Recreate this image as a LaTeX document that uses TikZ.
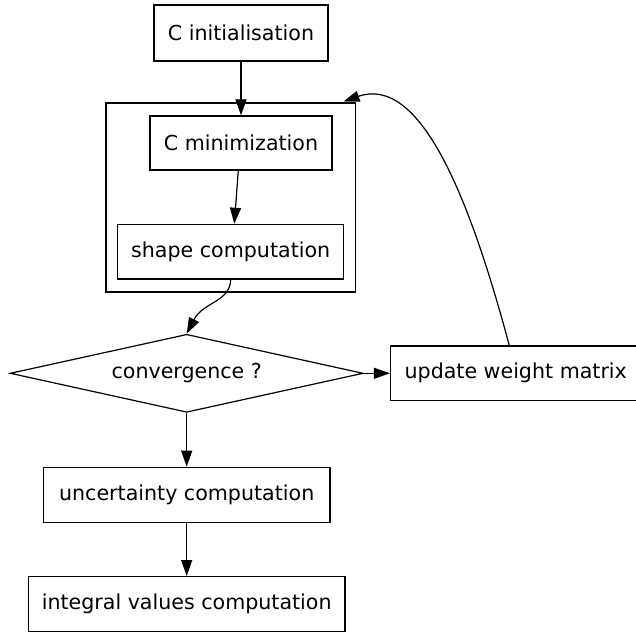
\documentclass[tikz,border=0pt]{standalone}
\usepackage{fontspec}
\setmainfont{DejaVu Sans}
\usetikzlibrary{arrows.meta,shapes.geometric}
\begin{document}
\begin{tikzpicture}[x=1pt,y=-1pt,
  every node/.style={font=\fontsize{20.6pt}{24pt}\selectfont, inner sep=0pt},
  gvbox/.style={draw, line width=1.2pt, rectangle},
  gvedge/.style={draw, line width=1.2pt, -{Triangle[length=16pt,width=11pt]}},
  ]
\useasboundingbox (0,0) rectangle (636,631);
% cluster
\node[gvbox, minimum width=249.5pt, minimum height=189pt] (cluster) at (230.8,197.5) {};
% nodes
\node[gvbox, minimum width=174pt, minimum height=56pt] (cinit) at (241,33) {C initialisation};
\node[gvbox, minimum width=182pt, minimum height=54pt] (cmin) at (241,143) {C minimization};
\node[gvbox, minimum width=226pt, minimum height=54.7pt] (shape) at (230.7,251.7) {shape computation};
\node[draw, line width=1.2pt, diamond, shape aspect=4.5, minimum width=353pt, minimum height=78pt] (conv) at (186.7,373.3) {convergence ?};
\node[gvbox, minimum width=250.5pt, minimum height=54.7pt] (upd) at (515.75,373.3) {update weight matrix};
\node[gvbox, minimum width=286.7pt, minimum height=55pt] (unc) at (186.7,494.8) {uncertainty computation};
\node[gvbox, minimum width=316.7pt, minimum height=55pt] (integ) at (186.7,604.2) {integral values computation};
\coordinate (fbtip) at (343.5,101.5);
% edges
\draw[gvedge] (cinit.south) -- (cmin.north);
\draw[gvedge] ([xshift=-2.7pt]cmin.south) -- ([xshift=3.6pt]shape.north);
\draw[gvedge] (shape.south) .. controls (230,302) and (203,302) .. (conv.north);
\draw[gvedge] (conv.east) -- (upd.west);
\draw[gvedge] ([xshift=-6.5pt]upd.north) .. controls (469,195) and (420,75) .. (fbtip);
\draw[gvedge] (conv.south) -- (unc.north);
\draw[gvedge] (unc.south) -- (integ.north);
\end{tikzpicture}
\end{document}
